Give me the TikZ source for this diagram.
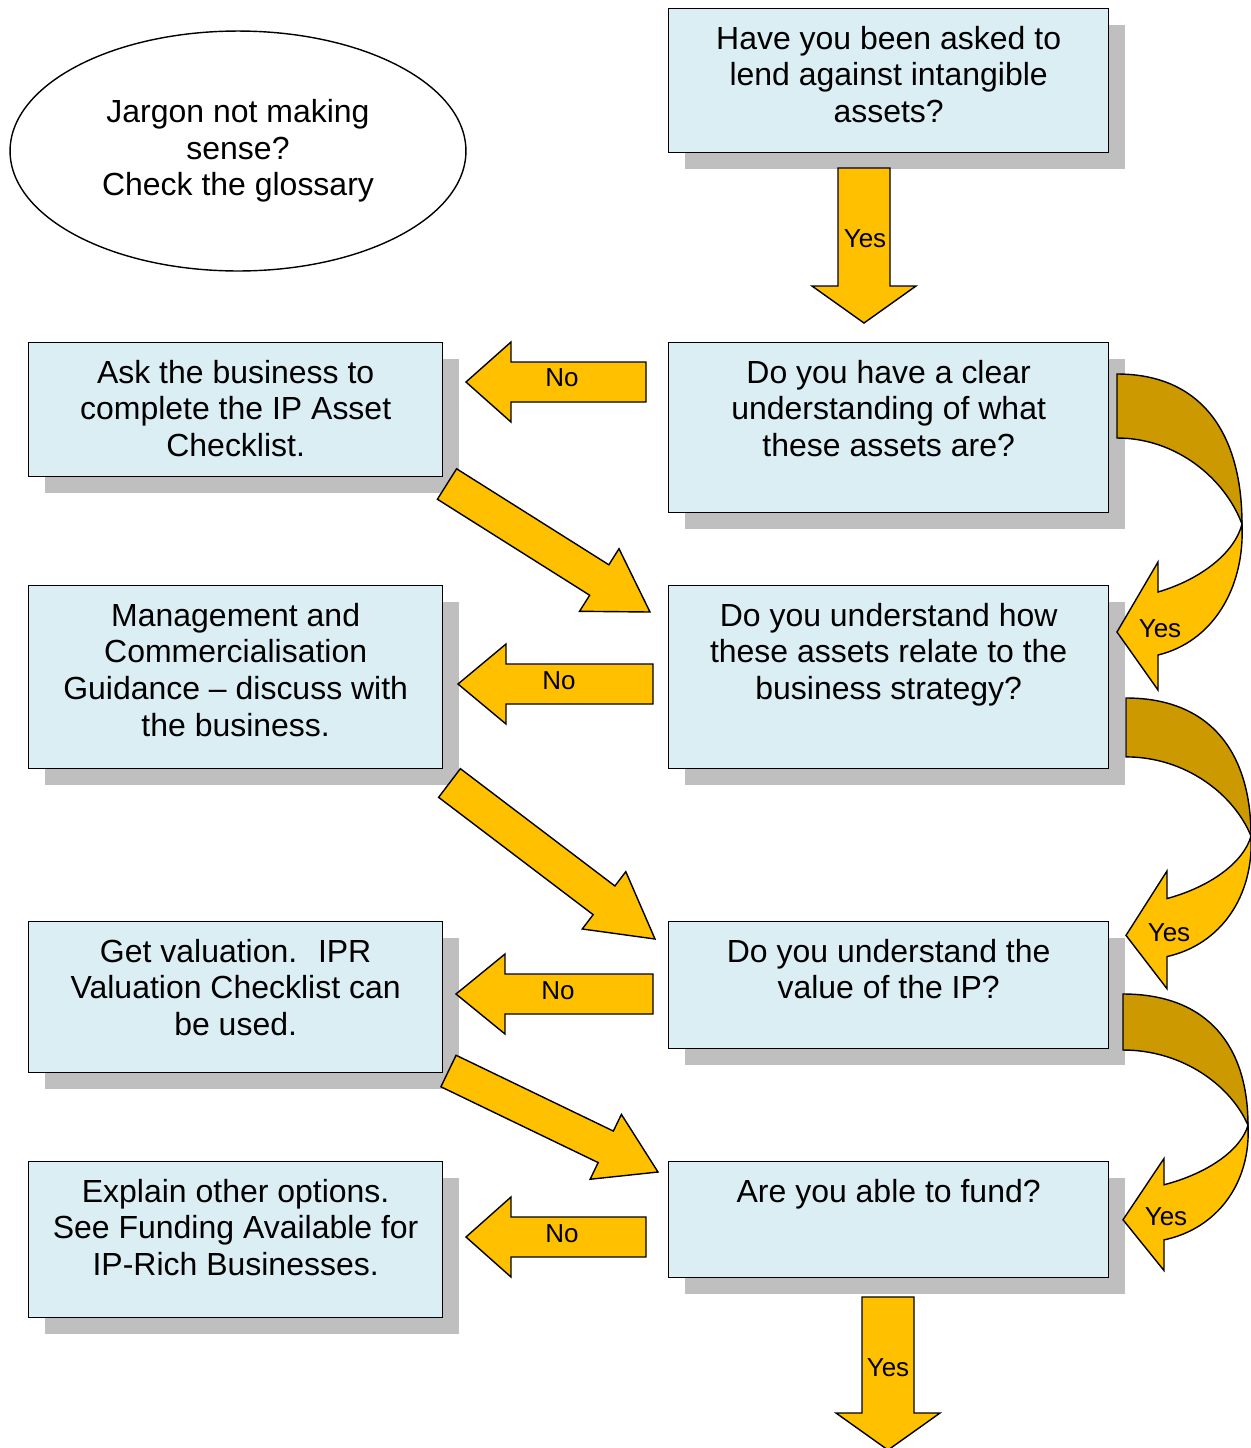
\documentclass[tikz,border=0pt]{standalone}
\usepackage{fontspec}
\setmainfont{Liberation Sans}
\usetikzlibrary{calc,shadows,shapes.geometric}

\definecolor{boxblue}{RGB}{219,238,244}
\definecolor{shadowgray}{RGB}{191,191,191}
\definecolor{arrowgold}{RGB}{255,192,0}
\definecolor{arrowdark}{RGB}{204,153,0}

\tikzset{
  qbox/.style={draw, line width=0.8pt, fill=boxblue, rectangle, inner sep=0pt,
    anchor=north west,
    general shadow={fill=shadowgray, shadow xshift=0.32cm, shadow yshift=-0.32cm}},
  qtext/.style={anchor=north, align=center, inner sep=0pt,
    font=\fontsize{18.2}{20.9}\selectfont},
  arrowshape/.style={draw, fill=arrowgold, line width=0.8pt},
  backshape/.style={draw, fill=arrowdark, line width=0.8pt},
  arrowlabel/.style={inner sep=0pt, font=\fontsize{14.8}{17}\selectfont},
}

% block arrow: tail, tip, body half width, head half width, head length
\newcommand{\blockarrow}[5]{%
  \coordinate (ba-t) at (#1);
  \coordinate (ba-h) at (#2);
  \coordinate (ba-c) at ($(ba-h)!#5!(ba-t)$);
  \filldraw[arrowshape] ($(ba-t)!#3!90:(ba-h)$) -- ($(ba-c)!#3!90:(ba-h)$)
    -- ($(ba-c)!#4!90:(ba-h)$) -- (ba-h) -- ($(ba-c)!#4!-90:(ba-h)$)
    -- ($(ba-c)!#3!-90:(ba-h)$) -- ($(ba-t)!#3!-90:(ba-h)$) -- cycle;
}

% curved yes arrow, drawn from its top left corner
\newcommand{\curvedarrow}{%
  \filldraw[backshape] (0,0) .. controls (85,0) and (125,60) .. (125,150)
    .. controls (108,105) and (60,64) .. (0,64) -- cycle;
  \filldraw[arrowshape] (125,150) .. controls (118,178) and (85,205) .. (41,218)
    -- (41,188) -- (0,258) -- (41,316) -- (41,281)
    .. controls (95,268) and (128,215) .. (125,150) -- cycle;
  \node[arrowlabel] at (43,255) {Yes};
}

\begin{document}
\begin{tikzpicture}[x=0.02cm, y=-0.02cm]
\useasboundingbox (0,0) rectangle (1251,1448);

% Glossary note
\node[draw, ellipse, line width=0.8pt, inner sep=0pt, minimum width=9.12cm,
  minimum height=4.8cm, align=center, font=\fontsize{18.2}{20.9}\selectfont]
  (glossary) at (238,151) {Jargon not making\\sense?\\Check the glossary};

% Question boxes (right column)
\node[qbox, minimum width=8.8cm, minimum height=2.88cm] (q1) at (668,8) {};
\node[qbox, minimum width=8.8cm, minimum height=3.4cm] (q2) at (668,342) {};
\node[qbox, minimum width=8.8cm, minimum height=3.66cm] (q3) at (668,585) {};
\node[qbox, minimum width=8.8cm, minimum height=2.54cm] (q4) at (668,921) {};
\node[qbox, minimum width=8.8cm, minimum height=2.32cm] (q5) at (668,1161) {};

% Action boxes (left column)
\node[qbox, minimum width=8.28cm, minimum height=2.68cm] (l1) at (28,342) {};
\node[qbox, minimum width=8.28cm, minimum height=3.66cm] (l2) at (28,585) {};
\node[qbox, minimum width=8.28cm, minimum height=3.02cm] (l3) at (28,921) {};
\node[qbox, minimum width=8.28cm, minimum height=3.12cm] (l4) at (28,1161) {};

% Box texts
\node[qtext] (q1text) at ($(q1.north)+(0,15)$) {\strut Have you been asked to\\lend against intangible\\assets?};
\node[qtext] (q2text) at ($(q2.north)+(0,15)$) {\strut Do you have a clear\\understanding of what\\these assets are?};
\node[qtext] (q3text) at ($(q3.north)+(0,15)$) {\strut Do you understand how\\these assets relate to the\\business strategy?};
\node[qtext] (q4text) at ($(q4.north)+(0,15)$) {\strut Do you understand the\\value of the IP?};
\node[qtext] (q5text) at ($(q5.north)+(0,15)$) {\strut Are you able to fund?};
\node[qtext] (l1text) at ($(l1.north)+(0,15)$) {\strut Ask the business to\\complete the IP Asset\\Checklist.};
\node[qtext] (l2text) at ($(l2.north)+(0,15)$) {\strut Management and\\Commercialisation\\Guidance – discuss with\\the business.};
\node[qtext] (l3text) at ($(l3.north)+(0,15)$) {\strut Get valuation.~ IPR\\Valuation Checklist can\\be used.};
\node[qtext] (l4text) at ($(l4.north)+(0,15)$) {\strut Explain other options.\\See Funding Available for\\IP-Rich Businesses.};

% Yes arrows down
\blockarrow{864,168}{864,323}{0.52cm}{1.04cm}{0.74cm}
\node[arrowlabel] at (865,239) {Yes};
\blockarrow{888,1297}{888,1450}{0.52cm}{1.04cm}{0.74cm}
\node[arrowlabel] at (888,1368) {Yes};

% No arrows
\blockarrow{646,382}{466,382}{0.4cm}{0.8cm}{0.9cm}
\node[arrowlabel] at (562,378) {No};
\blockarrow{653,684}{458,684}{0.4cm}{0.8cm}{0.96cm}
\node[arrowlabel] at (559,681) {No};
\blockarrow{653,994}{456,994}{0.4cm}{0.8cm}{0.98cm}
\node[arrowlabel] at (558,991) {No};
\blockarrow{646,1237}{466,1237}{0.4cm}{0.8cm}{0.9cm}
\node[arrowlabel] at (562,1234) {No};

% Back to the next question
\blockarrow{447,484}{650,612}{0.36cm}{0.74cm}{1.2cm}
\blockarrow{449.5,783}{655,939}{0.36cm}{0.72cm}{1.28cm}
\blockarrow{448.5,1071}{658,1172}{0.35cm}{0.72cm}{1.16cm}

% Curved yes arrows
\begin{scope}[shift={(1117,374)}]
  \curvedarrow
\end{scope}
\begin{scope}[shift={(1126,698)}, yscale=0.92]
  \curvedarrow
\end{scope}
\begin{scope}[shift={(1123,994)}, yscale=0.875]
  \curvedarrow
\end{scope}

\end{tikzpicture}
\end{document}
